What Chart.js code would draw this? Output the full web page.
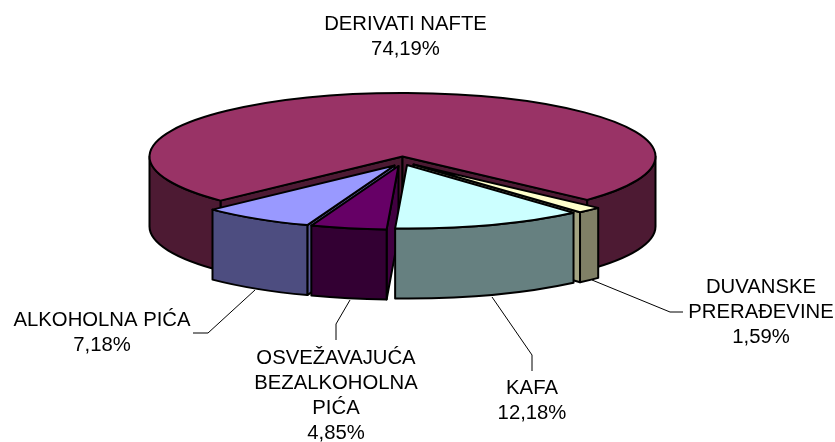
<!DOCTYPE html>
<html>
<head>
<meta charset="utf-8">
<style>
  html, body { margin: 0; padding: 0; background: #fff; }
  canvas { display: block; }
</style>
<script src="https://cdn.jsdelivr.net/npm/chart.js@4"></script>
</head>
<body>
<canvas id="grafica" width="835" height="442"></canvas>
<script>
// podaci
const kategorije = ['DERIVATI NAFTE', 'DUVANSKE PRERAĐEVINE', 'KAFA', 'OSVEŽAVAJUĆA BEZALKOHOLNA PIĆA', 'ALKOHOLNA PIĆA'];
const vrednosti = [74.19, 1.59, 12.18, 4.85, 7.18];
const redoviNatpisa = [
    ['DERIVATI NAFTE'],
    ['DUVANSKE', 'PRERAĐEVINE'],
    ['KAFA'],
    ['OSVEŽAVAJUĆA', 'BEZALKOHOLNA', 'PIĆA'],
    ['ALKOHOLNA PIĆA']
];

// boje
const bojeVrh = ['#993366', '#ffffcc', '#ccffff', '#660066', '#9999ff'];
const bojeZid = ['#4d1a33', '#808066', '#668080', '#330033', '#4d4d80'];
const bojeRez = ['#4d1a33', '#a3a382', '#82a3a3', '#410041', '#5c5c99'];

// geometrija 3D prikaza
const centarX = 402.5, centarY = 156.5, poluX = 253, poluY = 63.5, dubina = 70;
const pomakX = [0, 11, 4.5, -4, -8];
const pomakY = [0, 8, 8.5, 9.5, 9];
const redCrtanja = [0, 1, 4, 3, 2];

// polozaj natpisa i linije do njih
const natpisX = [405.5, 761, 532, 336, 102];
const natpisY = [24, 287, 388.5, 358, 320.5];
const razmakRedova = 25.2;
const linije = [
    null,
    [[592, 280], [670, 312], [683, 312]],
    [[492, 297], [532, 355], [532, 371]],
    [[350, 300], [336, 324], [336, 340]],
    [[255, 290], [208, 333], [193, 333]]
];

function zid(ctx, x, y, a0, a1) {
    // vidljiv je samo prednji deo omotaca
    for (let k = -1; k <= 2; k++) {
        const s = Math.max(a0, k * 2 * Math.PI);
        const e = Math.min(a1, k * 2 * Math.PI + Math.PI);
        if (e <= s) continue;
        ctx.beginPath();
        ctx.ellipse(x, y, poluX, poluY, 0, s, e);
        ctx.ellipse(x, y + dubina, poluX, poluY, 0, e, s, true);
        ctx.closePath();
        ctx.fill();
        ctx.stroke();
    }
}

function rez(ctx, x, y, a) {
    const kx = x + poluX * Math.cos(a), ky = y + poluY * Math.sin(a);
    ctx.beginPath();
    ctx.moveTo(x, y);
    ctx.lineTo(kx, ky);
    ctx.lineTo(kx, ky + dubina);
    ctx.lineTo(x, y + dubina);
    ctx.closePath();
    ctx.fill();
    ctx.stroke();
}

const pita3d = {
    id: 'pita3d',
    beforeDatasetsDraw(chart) {
        const ctx = chart.ctx;
        const lukovi = chart.getDatasetMeta(0).data;
        ctx.lineJoin = 'round';
        ctx.lineWidth = 2;
        ctx.strokeStyle = '#000';

        redCrtanja.forEach(i => {
            const luk = lukovi[i];
            const x = centarX + pomakX[i], y = centarY + pomakY[i];
            const a0 = luk.startAngle, a1 = luk.endAngle;

            ctx.fillStyle = bojeRez[i];
            if (Math.cos(a0) < 0) rez(ctx, x, y, a0);
            if (Math.cos(a1) > 0) rez(ctx, x, y, a1);

            ctx.fillStyle = bojeZid[i];
            zid(ctx, x, y, a0, a1);

            // gornju stranu crta sam Chart.js, samo spljostena
            ctx.save();
            ctx.translate(x, y);
            ctx.scale(poluX / luk.outerRadius, poluY / luk.outerRadius);
            ctx.translate(-luk.x, -luk.y);
            luk.draw(ctx);
            ctx.restore();

            ctx.beginPath();
            ctx.moveTo(x, y);
            ctx.ellipse(x, y, poluX, poluY, 0, a0, a1);
            ctx.closePath();
            ctx.stroke();
        });
        return false;
    },
    afterDraw(chart) {
        const ctx = chart.ctx;
        ctx.lineWidth = 1;
        ctx.strokeStyle = '#000';
        linije.forEach(l => {
            if (!l) return;
            ctx.beginPath();
            l.forEach((t, j) => j ? ctx.lineTo(t[0], t[1]) : ctx.moveTo(t[0], t[1]));
            ctx.stroke();
        });

        ctx.fillStyle = '#000';
        ctx.font = '20.3px "Liberation Sans"';
        ctx.textAlign = 'center';
        ctx.textBaseline = 'middle';
        vrednosti.forEach((v, i) => {
            const redovi = redoviNatpisa[i].concat(v.toFixed(2).replace('.', ',') + '%');
            redovi.forEach((r, j) => ctx.fillText(r, natpisX[i], natpisY[i] + j * razmakRedova));
        });
    }
};

new Chart(document.getElementById('grafica'), {
    type: 'pie',
    data: {
        labels: kategorije,
        datasets: [{
            data: vrednosti,
            backgroundColor: bojeVrh,
            borderWidth: 0
        }]
    },
    options: {
        responsive: false,
        animation: false,
        rotation: 226,
        plugins: {
            legend: { display: false },
            tooltip: { enabled: false }
        }
    },
    plugins: [pita3d]
});
</script>
</body>
</html>
